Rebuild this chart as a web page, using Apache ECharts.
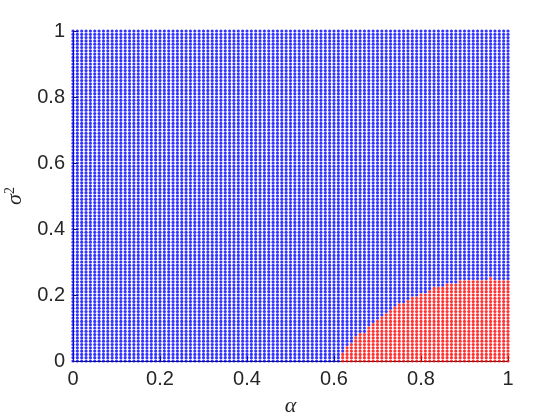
<!DOCTYPE html>
<html>
<head>
<meta charset="utf-8">
<script src="https://cdn.jsdelivr.net/npm/echarts@6/dist/echarts.min.js"></script>
<style>
html,body{margin:0;padding:0;background:#fff;}
#chart{width:560px;height:420px;}
</style>
</head>
<body>
<div id="chart"></div>
<script>
// grid resolution: alpha and sigma^2 both sampled at 0, 0.01, ..., 1
const gridSteps = 100;
const xTicks = [0, 0.2, 0.4, 0.6, 0.8, 1];
const yTicks = [0, 0.2, 0.4, 0.6, 0.8, 1];
// red region: first red column index and, for each red column, highest red row index
const redStartCol = 62;
const redTopRow = [2, 4, 5, 7, 8, 8, 10, 11, 12, 13, 14, 15, 16, 17, 17, 18, 19, 19, 20, 20,
                   21, 22, 22, 22, 23, 23, 23, 24, 24, 24, 24, 24, 24, 24, 25, 24, 24, 24, 24];

const bluePts = [], redPts = [];
for (let i = 0; i <= gridSteps; i++) {
  for (let j = 0; j <= gridSteps; j++) {
    const a = i / gridSteps, s = j / gridSteps;
    const k = i - redStartCol;
    if (k >= 0 && k < redTopRow.length && j <= redTopRow[k]) redPts.push([a, s]);
    else bluePts.push([a, s]);
  }
}

const chart = echarts.init(document.getElementById('chart'), null, {renderer: 'canvas'});
const axisColor = '#262626';
const lblFont = {color: axisColor, fontSize: 20, fontFamily: 'Liberation Sans, Arial, sans-serif'};
chart.setOption({
  animation: false,
  backgroundColor: '#ffffff',
  grid: {left: 73, right: 52, top: 31, bottom: 59, containLabel: false, outerBoundsMode: 'none'},
  xAxis: {
    type: 'value', min: 0, max: 1, interval: 0.2,
    name: 'α', nameLocation: 'middle', nameGap: 34,
    nameTextStyle: {color: axisColor, fontSize: 22, fontStyle: 'italic', fontFamily: 'Liberation Serif, serif'},
    axisLine: {show: true, lineStyle: {color: axisColor, width: 1}},
    axisTick: {show: true, inside: true, length: 5, lineStyle: {color: axisColor}},
    axisLabel: Object.assign({margin: 8, formatter: v => String(+v.toFixed(1))}, lblFont),
    splitLine: {show: false}
  },
  yAxis: {
    type: 'value', min: 0, max: 1, interval: 0.2,
    name: '{a|σ}{s|2}', nameLocation: 'middle', nameGap: 44, nameRotate: 90,
    nameTextStyle: {color: axisColor, fontFamily: 'Liberation Serif, serif',
      rich: {
        a: {fontSize: 22, fontStyle: 'italic', fontFamily: 'Liberation Serif, serif', color: axisColor},
        s: {fontSize: 14, verticalAlign: 'top', fontFamily: 'Liberation Serif, serif', color: axisColor, padding: [0, 0, 10, 0]}
      }},
    axisLine: {show: true, lineStyle: {color: axisColor, width: 1}},
    axisTick: {show: true, inside: true, length: 5, lineStyle: {color: axisColor}},
    axisLabel: Object.assign({margin: 8, formatter: v => String(+v.toFixed(1))}, lblFont),
    splitLine: {show: false}
  },
  series: [
    {type: 'scatter', data: bluePts, symbol: 'circle', symbolSize: 3.2,
     itemStyle: {color: '#0000ff'}, silent: true, large: false},
    {type: 'scatter', data: redPts, symbol: 'circle', symbolSize: 3.2,
     itemStyle: {color: '#ff0000'}, silent: true, large: false}
  ]
});
</script>
</body>
</html>
